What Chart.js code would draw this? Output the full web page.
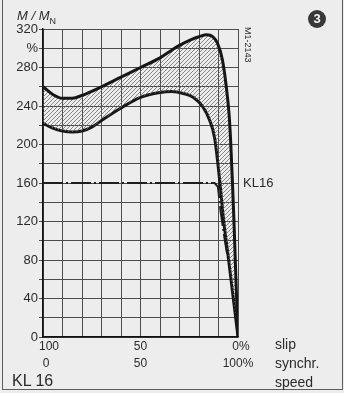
<!DOCTYPE html>
<html>
<head>
<meta charset="utf-8">
<script src="https://cdn.jsdelivr.net/npm/chart.js@4"></script>
<style>
  body { margin: 0; background: #ededed; }
  #wrap {
    position: relative; width: 344px; height: 393px; overflow: hidden;
    font-family: "Liberation Sans Narrow", "Liberation Sans", Arial, sans-serif;
    color: #2b2b2b;
  }
  #chart { position: absolute; left: 0; top: 0; }
  .t { position: absolute; white-space: nowrap; }
  #frame {
    position: absolute; left: 2px; top: -3px; width: 341px; height: 393px;
    border: 1.5px solid #5c5c5c; box-sizing: border-box;
  }
  #badge {
    position: absolute; left: 308px; top: 10px; width: 18px; height: 18px;
    border-radius: 50%; background: #383838; color: #f4f4f4;
    font: bold 13px "Liberation Sans", sans-serif; text-align: center; line-height: 18px;
  }
</style>
</head>
<body>
<div id="wrap">
  <canvas id="chart" width="344" height="393"></canvas>
  <div id="frame"></div>
  <div class="t" style="left:17px;top:8px;font-size:13px;font-style:italic;">M / M<sub style="font-size:9px;font-style:normal;">N</sub></div>
  <div id="badge">3</div>
  <div class="t" style="left:243px;top:27px;font-size:9px;writing-mode:vertical-rl;">M1-2143</div>
  <div class="t" style="left:275px;top:335px;font-size:14px;line-height:19px;">slip<br>synchr.<br>speed</div>
  <div class="t" style="left:12px;top:372px;font-size:16px;">KL 16</div>
</div>
<script>
// speed in % of synchronous speed (slip = 100 - speed), torque in % of rated torque
const upperSpeed  = [0, 5, 10, 15, 20, 30, 40, 50, 60, 66, 70, 76, 80, 84, 87, 89.5, 92, 94, 95.4, 96.2, 97.1, 97.9, 98.6, 100];
const upperTorque = [260, 252, 248, 248, 251, 260, 270, 280, 290, 298, 303, 309, 312, 314, 312, 305, 288, 260, 232, 205, 163, 122, 80, 0];

const lowerSpeed  = [0, 5, 10, 15, 20, 25, 30, 40, 50, 60, 66, 72, 77, 82, 85.5, 88, 90.6, 92.6, 95.2, 100];
const lowerTorque = [222, 217, 214, 213, 214, 218, 225, 238, 249, 254, 255, 253, 249, 239, 225, 207, 163, 122, 80, 0];

const kl16Speed  = [0, 88, 89.7, 91.1, 93.2, 94.5];
const kl16Torque = [160, 160, 156, 130, 101, 85];

const xLabelAt   = [0, 50, 100];
const slipLabels = ["\u2002\u2002100", "50", "\u20020%"];
const syncLabels = ["\u20020", "50", "100%"];

const toPoints = (xs, ys) => xs.map((x, i) => ({ x, y: ys[i] }));

// diagonal hatching for the band between the curves
const pc = document.createElement("canvas");
pc.width = pc.height = 4;
const g = pc.getContext("2d");
g.strokeStyle = "#6a6a6a";
g.lineWidth = 0.8;
g.beginPath();
g.moveTo(0, 4); g.lineTo(4, 0);
g.moveTo(-1, 1); g.lineTo(1, -1);
g.moveTo(3, 5); g.lineTo(5, 3);
g.stroke();

const canvas = document.getElementById("chart");
const hatch = canvas.getContext("2d").createPattern(pc, "repeat");

const tickFont = { family: "'Liberation Sans Narrow', 'Liberation Sans', sans-serif", size: 13 };

const kl16Label = {
  id: "kl16Label",
  afterDatasetsDraw(chart) {
    const { ctx, chartArea, scales } = chart;
    ctx.save();
    ctx.fillStyle = "#2b2b2b";
    ctx.font = "13px 'Liberation Sans Narrow', 'Liberation Sans', sans-serif";
    ctx.textBaseline = "middle";
    ctx.fillText("KL16", chartArea.right + 5, scales.y.getPixelForValue(kl16Torque[0]));
    ctx.restore();
  },
};

new Chart(canvas, {
  type: "line",
  data: {
    datasets: [
      {
        label: "max",
        data: toPoints(upperSpeed, upperTorque),
        borderColor: "#161616",
        borderWidth: 3,
        backgroundColor: hatch,
        fill: "+1",
        cubicInterpolationMode: "monotone",
        pointRadius: 0,
      },
      {
        label: "min",
        data: toPoints(lowerSpeed, lowerTorque),
        borderColor: "#161616",
        borderWidth: 3,
        fill: false,
        cubicInterpolationMode: "monotone",
        pointRadius: 0,
      },
      {
        label: "KL16",
        data: toPoints(kl16Speed, kl16Torque),
        borderColor: "#1e1e1e",
        borderWidth: 2,
        borderDash: [20, 3, 2, 3],
        fill: false,
        tension: 0,
        pointRadius: 0,
      },
    ],
  },
  options: {
    responsive: false,
    animation: false,
    layout: { padding: { left: 0, top: 29, right: 106, bottom: 0 } },
    plugins: { legend: { display: false }, tooltip: { enabled: false } },
    scales: {
      x: {
        type: "linear",
        min: 0,
        max: 100,
        afterFit: (s) => { s.height = 56; },
        border: { color: "#111", width: 1.5 },
        grid: { color: "#4d4d4d", lineWidth: 1, drawTicks: false },
        ticks: {
          stepSize: 10,
          autoSkip: false,
          maxRotation: 0,
          padding: 1,
          color: "#2b2b2b",
          font: { ...tickFont, size: 12, lineHeight: 1.4 },
          callback: (v) => {
            const i = xLabelAt.indexOf(v);
            return i < 0 ? "" : [slipLabels[i], syncLabels[i]];
          },
        },
      },
      y: {
        min: 0,
        max: 320,
        afterFit: (s) => { s.width = 43; },
        border: { color: "#111", width: 1.5 },
        grid: { color: "#4d4d4d", lineWidth: 1, tickLength: 4 },
        ticks: {
          stepSize: 20,
          autoSkip: false,
          padding: 1,
          color: "#2b2b2b",
          font: tickFont,
          callback: (v) => (v === 300 ? "%" : v % 40 === 0 ? v : ""),
        },
      },
    },
  },
  plugins: [kl16Label],
});
</script>
</body>
</html>
